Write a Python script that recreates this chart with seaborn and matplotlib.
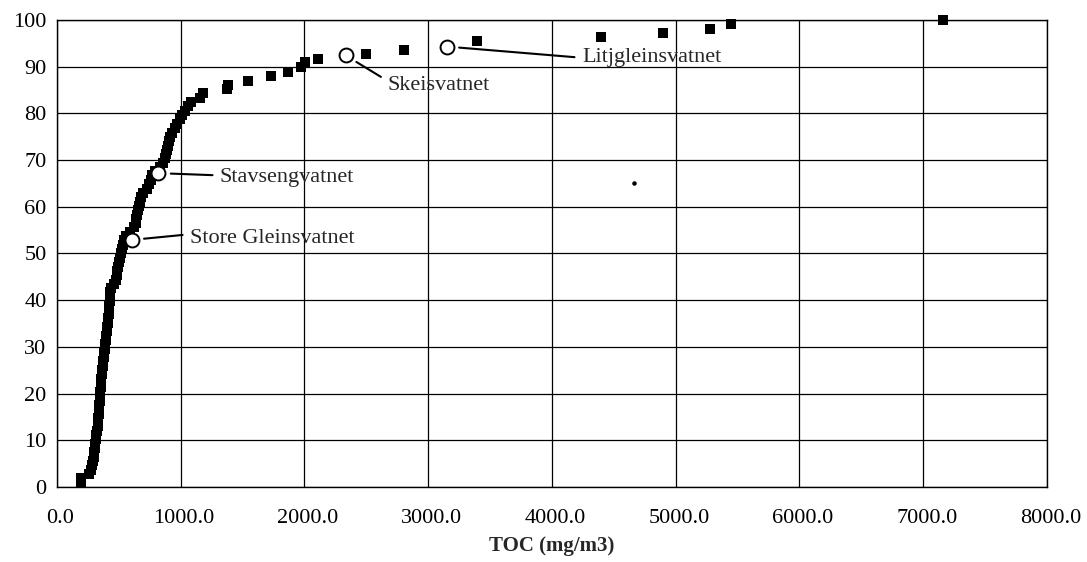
import seaborn as sns
import pandas as pd
import matplotlib.pyplot as plt
import matplotlib.transforms as mtransforms

# cumulative TOC distribution
toc = [194, 197, 262, 272, 282, 290, 298, 302, 306, 310,
       313, 318, 322, 328, 332, 335, 337, 340, 342, 344,
       346, 348, 353, 356, 359, 362, 366, 370, 374, 378,
       382, 386, 390, 394, 398, 403, 408, 412, 415, 418,
       421, 423, 426, 428, 432, 438, 462, 476, 482, 488,
       494, 503, 512, 519, 525, 531, 540, 560, 590, 620,
       637, 642, 647, 653, 660, 667, 677, 698, 725, 745,
       760, 772, 795, 830, 860, 872, 880, 887, 895, 903,
       912, 928, 950, 972, 992, 1010, 1038, 1058, 1080, 1156,
       1183, 1370, 1385, 1545, 1727, 1867, 1969, 2004, 2110, 2495,
       2804, 3394, 4396, 4897, 5277, 5446, 7160]
pct = [0.9, 1.9, 2.8, 3.7, 4.6, 5.6, 6.5, 7.4, 8.3, 9.3,
       10.2, 11.1, 12.0, 13.0, 13.9, 14.8, 15.7, 16.7, 17.6, 18.5,
       19.4, 20.4, 21.3, 22.2, 23.1, 24.1, 25.0, 25.9, 26.9, 27.8,
       28.7, 29.6, 30.6, 31.5, 32.4, 33.3, 34.3, 35.2, 36.1, 37.0,
       38.0, 38.9, 39.8, 40.7, 41.7, 42.6, 43.5, 44.4, 45.4, 46.3,
       47.2, 48.1, 49.1, 50.0, 50.9, 51.9, 52.8, 53.7, 54.6, 55.6,
       56.5, 57.4, 58.3, 59.3, 60.2, 61.1, 62.0, 63.0, 63.9, 64.8,
       65.7, 66.7, 67.6, 68.5, 69.4, 70.4, 71.3, 72.2, 73.1, 74.1,
       75.0, 75.9, 76.9, 77.8, 78.7, 79.6, 80.6, 81.5, 82.4, 83.3,
       84.3, 85.2, 86.1, 87.0, 88.0, 88.9, 89.9, 90.9, 91.7, 92.7,
       93.6, 95.4, 96.3, 97.3, 98.1, 99.1, 100.0]

# named lakes (open circles) and label positions
lakes = ["Store Gleinsvatnet", "Stavsengvatnet", "Skeisvatnet", "Litjgleinsvatnet"]
lake_toc = [603, 819, 2333, 3149]
lake_pct = [52.9, 67.2, 92.4, 94.3]
label_x = [1075, 1317, 2673, 4242]
label_y = [53.1, 66.3, 85.9, 91.9]
label_rel = [0.75, 0.6, 0.75, 0.5]

# stray point
dot_toc = [4663]
dot_pct = [65.1]

xticks = [0, 1000, 2000, 3000, 4000, 5000, 6000, 7000, 8000]
yticks = [0, 10, 20, 30, 40, 50, 60, 70, 80, 90, 100]

sns.set_style("white")
plt.rcParams['font.family'] = ['Liberation Serif', 'DejaVu Serif']

df = pd.DataFrame({"toc": toc, "pct": pct})
df_lake = pd.DataFrame({"toc": lake_toc, "pct": lake_pct})

fig = plt.figure(figsize=(10.87, 5.62), dpi=100)
ax = fig.add_axes([0.0524, 0.1335, 0.9108, 0.831])

sns.scatterplot(data=df, x="toc", y="pct", marker="s", s=50, color="black",
                edgecolor="black", linewidth=0, ax=ax, clip_on=False, zorder=3)
sns.scatterplot(data=df_lake, x="toc", y="pct", marker="o", s=100, color="white",
                edgecolor="black", linewidth=1.4, ax=ax, clip_on=False, zorder=4)
ax.scatter(dot_toc, dot_pct, s=5, color="black", zorder=3)

for name, px, py, tx, ty, rel in zip(lakes, lake_toc, lake_pct, label_x, label_y, label_rel):
    ax.annotate(name, xy=(px, py), xytext=(tx, ty), ha="left", va="center",
                fontsize=16,
                arrowprops=dict(arrowstyle="-", color="black", lw=1.5,
                                shrinkA=3, shrinkB=9, relpos=(0, rel)))

ax.set_xlim(0, 8000)
ax.set_ylim(0, 100)
ax.set_xticks(xticks)
ax.set_xticklabels([f"{v:.1f}" for v in xticks])
ax.set_yticks(yticks)
ax.set_yticklabels([str(v) for v in yticks])
ax.grid(True, color="black", lw=0.9)
ax.set_axisbelow(True)
ax.tick_params(axis="both", direction="inout", length=9, width=1, colors="black",
               labelsize=16)
ax.tick_params(axis="y", pad=3)
ax.tick_params(axis="x", pad=11)
# x labels sit a few pixels right of their ticks in the original
shift = mtransforms.ScaledTranslation(0.035, 0, fig.dpi_scale_trans)
for lbl in ax.get_xticklabels():
    lbl.set_transform(lbl.get_transform() + shift)
for s in ax.spines.values():
    s.set_color("black")
    s.set_linewidth(1)
ax.set_xlabel("TOC (mg/m3)", fontsize=15, fontweight="bold", labelpad=6)
ax.set_ylabel("")

fig.savefig("out.png", dpi=100)
